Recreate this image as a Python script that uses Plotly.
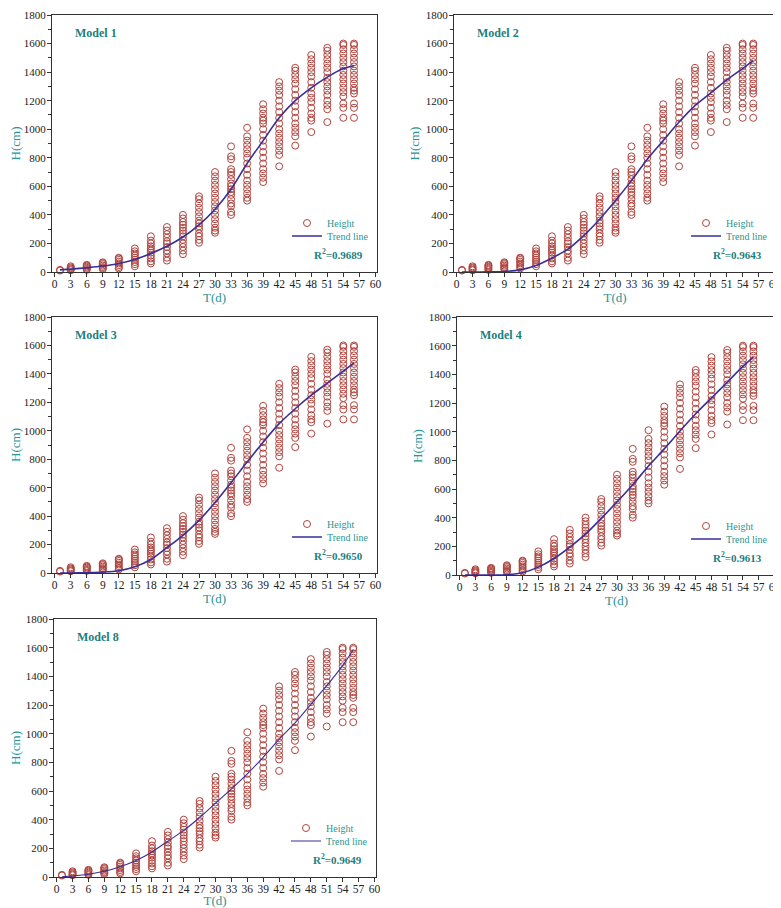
import plotly.graph_objects as go

# ---------------- data ----------------
days = [1, 3, 6, 9, 12, 15, 18, 21, 24, 27, 30, 33, 36, 39, 42, 45, 48, 51, 54, 56]

heights = [
    [10, 15],
    [12, 18, 25, 32, 40],
    [15, 22, 30, 38, 45, 50],
    [20, 28, 35, 45, 55, 62, 68],
    [25, 35, 48, 60, 72, 85, 95, 100],
    [40, 55, 70, 85, 100, 115, 130, 145, 165],
    [60, 75, 95, 115, 135, 150, 165, 180, 200, 220, 250],
    [80, 100, 130, 150, 175, 200, 215, 240, 265, 290, 315],
    [125, 150, 175, 200, 225, 250, 270, 290, 310, 330, 350, 375, 400],
    [205, 225, 250, 270, 300, 320, 340, 360, 390, 420, 450, 480, 510, 530],
    [275, 290, 310, 340, 370, 400, 430, 460, 490, 520, 550, 580, 610, 640, 670, 700],
    [400, 420, 460, 480, 510, 540, 560, 580, 600, 620, 650, 680, 700, 720, 790, 810, 880],
    [500, 520, 550, 580, 610, 640, 680, 720, 760, 800, 830, 860, 890, 920, 950, 1010],
    [630, 660, 690, 720, 760, 800, 840, 880, 920, 960, 1000, 1040, 1060, 1080, 1110, 1140, 1175],
    [740, 820, 850, 880, 910, 940, 970, 1000, 1040, 1080, 1120, 1160, 1200, 1240, 1270, 1300, 1330],
    [885, 950, 980, 1010, 1040, 1080, 1120, 1160, 1200, 1240, 1280, 1320, 1350, 1380, 1410, 1430],
    [980, 1060, 1080, 1110, 1150, 1190, 1220, 1250, 1290, 1330, 1370, 1400, 1430, 1460, 1490, 1520],
    [1050, 1140, 1170, 1200, 1240, 1270, 1300, 1330, 1360, 1400, 1430, 1460, 1490, 1520, 1550, 1570],
    [1080, 1150, 1180, 1230, 1260, 1290, 1320, 1350, 1380, 1410, 1440, 1470, 1500, 1530, 1560, 1590, 1600],
    [1080, 1150, 1180, 1250, 1270, 1290, 1320, 1350, 1380, 1410, 1440, 1470, 1500, 1530, 1560, 1590, 1600],
]

trend_t = [1, 3, 6, 9, 12, 15, 18, 21, 24, 27, 30, 33, 36, 39, 42, 45, 48, 51, 54, 56]
trend_model1 = [15, 20, 30, 42, 60, 88, 130, 180, 245, 330, 440, 580, 760, 920, 1080, 1200, 1290, 1365, 1425, 1445]
trend_model2 = [0, 0, 1, 4, 15, 45, 98, 160, 255, 370, 500, 640, 790, 920, 1050, 1165, 1255, 1345, 1425, 1480]
trend_model3 = [0, 0, 2, 6, 16, 44, 95, 178, 265, 370, 495, 635, 780, 920, 1050, 1155, 1250, 1335, 1420, 1478]
trend_model4 = [0, 0, 0, 2, 16, 55, 115, 195, 285, 395, 510, 630, 760, 880, 1005, 1125, 1235, 1345, 1455, 1520]
trend_model8 = [2, 7, 19, 40, 72, 115, 175, 250, 325, 415, 515, 615, 720, 835, 960, 1075, 1205, 1335, 1475, 1585]

model_names = ["Model 1", "Model 2", "Model 3", "Model 4", "Model 8"]
r2_values = ["0.9689", "0.9643", "0.9650", "0.9613", "0.9649"]
x_tick_vals = list(range(0, 61, 3))
y_tick_vals = list(range(0, 1801, 200))

# ---------------- layout helpers ----------------
OFF = 8                      # page body margin of the browser
W, H = 781 - OFF, 908 - OFF  # figure size so it fits the window
# panel boxes in window pixels: left, right, top, bottom
boxes = [
    (52, 377, 15, 272),
    (454, 776, 15, 272),
    (52, 377, 317, 573),
    (457, 776, 317, 575),
    (54, 376, 619, 877),
]
trends = [trend_model1, trend_model2, trend_model3, trend_model4, trend_model8]
line_widths = [1.6, 1.6, 1.6, 1.6, 1.1]

SERIF = "Liberation Serif, Times New Roman, serif"
TEAL = "#2a9595"
TEAL_DARK = "#1d7f7f"
RED = "#b0443e"
BLUE = "#372e98"


def px_x(v):
    return (v - OFF) / W


def px_y(v):
    return 1 - (v - OFF) / H


def legend_id(k):
    return "legend" if k == 1 else "legend" + str(k)


xs, ys = [], []
for d, col in zip(days, heights):
    for v in col:
        xs.append(d)
        ys.append(v)

fig = go.Figure()
layout = dict(
    width=W, height=H,
    margin=dict(l=0, r=0, t=0, b=0, autoexpand=False),
    paper_bgcolor="white", plot_bgcolor="white",
    font=dict(family=SERIF, color="#222222", size=11),
    showlegend=True,
    annotations=[],
)

for i, (box, trend, name, r2, lw) in enumerate(zip(boxes, trends, model_names, r2_values, line_widths)):
    n = "" if i == 0 else str(i + 1)
    xa, ya = "x" + n, "y" + n
    lg_pts, lg_line = legend_id(2 * i + 1), legend_id(2 * i + 2)
    l, r, t, b = box
    fig.add_trace(go.Scatter(
        x=xs, y=ys, mode="markers", name="Height", showlegend=True,
        marker=dict(symbol="circle-open", size=7, color=RED, line=dict(width=1, color=RED)),
        xaxis=xa, yaxis=ya, legend=lg_pts, cliponaxis=False,
    ))
    fig.add_trace(go.Scatter(
        x=trend_t, y=trend, mode="lines", name="Trend line", showlegend=True,
        line=dict(color=BLUE, width=lw, shape="spline", smoothing=0.9),
        xaxis=xa, yaxis=ya, legend=lg_line,
    ))
    layout["xaxis" + n] = dict(
        domain=[px_x(l), px_x(r)], anchor=ya, range=[-0.5, 60.3], automargin=False,
        tickmode="array", tickvals=x_tick_vals,
        ticks="outside", ticklen=4, tickwidth=1, tickcolor="#333",
        ticklabelstandoff=-3, ticklabeloverflow="allow",
        showline=True, linecolor="#333", linewidth=1, mirror=True,
        showgrid=False, zeroline=False,
        tickfont=dict(family=SERIF, size=11.5, color="#222"),
        title=dict(text="T(d)", font=dict(family=SERIF, size=13, color=TEAL), standoff=0),
    )
    layout["yaxis" + n] = dict(
        domain=[px_y(b), px_y(t)], anchor=xa, range=[0, 1800], automargin=False,
        tickmode="array", tickvals=y_tick_vals,
        ticks="outside", ticklen=4, tickwidth=1, tickcolor="#333",
        ticklabelstandoff=-1, ticklabeloverflow="allow",
        minor=dict(dtick=100, ticks="outside", ticklen=3, tickcolor="#333", showgrid=False),
        showline=True, linecolor="#333", linewidth=1, mirror=True,
        showgrid=False, zeroline=False,
        tickfont=dict(family=SERIF, size=11, color="#222"),
        title=dict(text="H(cm)", font=dict(family=SERIF, size=13, color=TEAL), standoff=3),
    )
    for lg, row_y in ((lg_pts, b - 49), (lg_line, b - 36)):
        layout[lg] = dict(
            x=px_x(r - 90), y=px_y(row_y), xanchor="left", yanchor="middle",
            bgcolor="rgba(0,0,0,0)", borderwidth=0,
            font=dict(family=SERIF, size=10, color=TEAL),
            itemwidth=30, tracegroupgap=0, visible=True,
        )
    layout["annotations"].append(dict(
        x=px_x(l + 21), y=px_y(t + 18), xref="paper", yref="paper",
        xanchor="left", yanchor="middle", showarrow=False,
        text="<b>" + name + "</b>",
        font=dict(family=SERIF, size=12, color=TEAL_DARK),
    ))
    layout["annotations"].append(dict(
        x=px_x(r - 39), y=px_y(b - 18), xref="paper", yref="paper",
        xanchor="center", yanchor="middle", showarrow=False,
        text="<b>R<sup>2</sup>=" + r2 + "</b>",
        font=dict(family=SERIF, size=11, color=TEAL_DARK),
    ))

fig.update_layout(**layout)
fig.write_html("out.html")
